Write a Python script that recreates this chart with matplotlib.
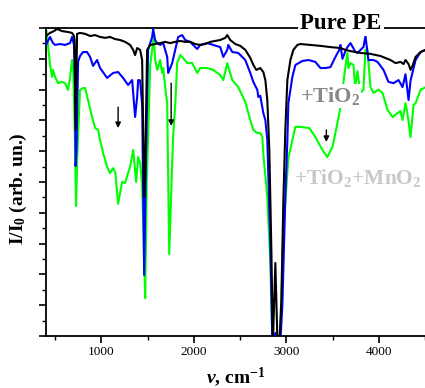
import matplotlib
matplotlib.use("Agg")
import matplotlib.pyplot as plt
from matplotlib.ticker import MultipleLocator, NullFormatter

plt.rcParams['font.family'] = ['Liberation Serif', 'DejaVu Serif']
plt.rcParams['mathtext.fontset'] = 'custom'
plt.rcParams['mathtext.rm'] = 'Liberation Serif:bold'
plt.rcParams['mathtext.it'] = 'Liberation Serif:italic:bold'
plt.rcParams['mathtext.bf'] = 'Liberation Serif:bold'

# ---- data (wavenumber cm^-1, I/I0 in arbitrary units) ----
pe_wn = [400, 443, 487, 519, 573, 638, 682, 703, 709, 720, 736, 768, 823, 877, 931, 985,
         1039, 1093, 1148, 1202, 1256, 1310, 1343, 1364, 1386, 1418, 1440, 1462, 1473,
         1494, 1527, 1581, 1635, 1689, 1743, 1798, 1852, 1906, 1960, 2014, 2068, 2123,
         2177, 2231, 2285, 2339, 2361, 2393, 2448, 2502, 2556, 2610, 2643, 2675, 2718,
         2751, 2773, 2794, 2816, 2838, 2854, 2881, 2903, 2924, 2946, 2968, 2989, 3011,
         3044, 3076, 3119, 3152, 3260, 3369, 3477, 3585, 3639, 3694, 3802, 3910, 4019,
         4127, 4181, 4235, 4268, 4289, 4322, 4344, 4365, 4398, 4452, 4506]
pe_i = [0.974, 0.984, 0.990, 0.997, 0.990, 0.987, 0.984, 0.974, 0.96, 0.669, 0.981, 0.984,
        0.981, 0.974, 0.977, 0.971, 0.968, 0.971, 0.964, 0.961, 0.955, 0.945, 0.929, 0.912,
        0.935, 0.929, 0.896, 0.451, 0.55, 0.929, 0.945, 0.948, 0.951, 0.955, 0.951, 0.955,
        0.958, 0.955, 0.955, 0.948, 0.945, 0.948, 0.955, 0.958, 0.961, 0.968, 0.977, 0.961,
        0.948, 0.942, 0.929, 0.903, 0.880, 0.864, 0.870, 0.857, 0.831, 0.766, 0.604, 0.279,
        -0.03, 0.237, -0.01, -0.03, 0.117, 0.442, 0.669, 0.831, 0.896, 0.929, 0.945, 0.948,
        0.945, 0.942, 0.938, 0.935, 0.929, 0.925, 0.919, 0.916, 0.909, 0.896, 0.886, 0.890,
        0.883, 0.896, 0.883, 0.864, 0.877, 0.906, 0.922, 0.929]

tio2_wn = [400, 443, 476, 498, 552, 606, 660, 682, 703, 715, 720, 730, 747, 768, 801, 844,
           877, 909, 953, 985, 1061, 1126, 1180, 1234, 1288, 1332, 1364, 1386, 1397, 1418,
           1440, 1462, 1483, 1505, 1548, 1559, 1581, 1603, 1635, 1668, 1711, 1722, 1765,
           1798, 1830, 1873, 1906, 1960, 2014, 2036, 2068, 2144, 2209, 2285, 2318, 2361,
           2372, 2415, 2480, 2556, 2610, 2643, 2686, 2697, 2718, 2751, 2773, 2794, 2827,
           2848, 2870, 2881, 2903, 2935, 2957, 2989, 3011, 3022, 3065, 3098, 3174, 3239,
           3314, 3369, 3423, 3477, 3531, 3574, 3585, 3607, 3639, 3661, 3694, 3748, 3769,
           3834, 3856, 3888, 3943, 3986, 4051, 4105, 4160, 4214, 4257, 4289, 4322, 4344,
           4398, 4452, 4506]
tio2_i = [0.945, 0.971, 0.951, 0.945, 0.948, 0.945, 0.951, 0.971, 0.945, 0.80, 0.552, 0.60,
          0.89, 0.909, 0.922, 0.922, 0.906, 0.877, 0.896, 0.870, 0.838, 0.854, 0.857, 0.838,
          0.815, 0.831, 0.711, 0.776, 0.831, 0.83, 0.75, 0.198, 0.6, 0.93, 0.97, 0.997,
          0.96, 0.951, 0.945, 0.951, 0.906, 0.854, 0.886, 0.929, 0.971, 0.977, 0.961, 0.955,
          0.938, 0.932, 0.945, 0.951, 0.945, 0.938, 0.906, 0.929, 0.945, 0.922, 0.919, 0.896,
          0.854, 0.825, 0.799, 0.776, 0.78, 0.724, 0.701, 0.636, 0.3, -0.01, -0.02, 0.01,
          -0.02, -0.02, 0.1, 0.45, 0.636, 0.756, 0.841, 0.880, 0.893, 0.896, 0.890, 0.870,
          0.870, 0.873, 0.906, 0.93, 0.945, 0.90, 0.925, 0.938, 0.951, 0.922, 0.919, 0.938,
          0.974, 0.896, 0.896, 0.89, 0.864, 0.825, 0.821, 0.831, 0.808, 0.85, 0.766, 0.83,
          0.896, 0.922, 0.929]

mno2_wn = [405, 443, 465, 476, 498, 530, 573, 606, 638, 660, 682, 695, 709, 725, 740, 768,
           801, 823, 855, 898, 931, 963, 985, 1018, 1061, 1093, 1126, 1150, 1180, 1223,
           1256, 1288, 1310, 1343, 1375, 1397, 1418, 1440, 1462, 1473, 1490, 1527, 1548,
           1565, 1580, 1603, 1620, 1635, 1657, 1668, 1689, 1711, 1733, 1765, 1776, 1798,
           1819, 1852, 1873, 1928, 1982, 2036, 2068, 2144, 2209, 2285, 2318, 2361, 2415,
           2480, 2556, 2610, 2643, 2686, 2718, 2740, 2751, 2794, 2827, 2848, 2870, 2903,
           2935, 2968, 3022, 3065, 3098, 3152, 3249, 3314, 3390, 3444, 3499, 3531, 3574,
           3607, 3639, 3661, 3672, 3694, 3726, 3745, 3769, 3800, 3834, 3856, 3877, 3910,
           3943, 3997, 4040, 4073, 4094, 4149, 4203, 4235, 4257, 4289, 4311, 4344, 4376,
           4398, 4452, 4506]
mno2_i = [0.99, 0.883, 0.841, 0.864, 0.841, 0.821, 0.825, 0.821, 0.799, 0.838, 0.896, 0.86,
          0.7, 0.422, 0.6, 0.799, 0.805, 0.805, 0.766, 0.711, 0.675, 0.67, 0.636, 0.594,
          0.549, 0.529, 0.545, 0.53, 0.429, 0.500, 0.497, 0.529, 0.549, 0.604, 0.500, 0.581,
          0.562, 0.490, 0.25, 0.123, 0.5, 0.88, 0.929, 0.97, 0.90, 0.864, 0.88, 0.896, 0.854,
          0.87, 0.808, 0.756, 0.266, 0.562, 0.65, 0.75, 0.886, 0.912, 0.906, 0.886, 0.886,
          0.854, 0.870, 0.870, 0.864, 0.847, 0.831, 0.886, 0.831, 0.808, 0.760, 0.701, 0.669,
          0.659, 0.659, 0.646, 0.59, 0.451, 0.237, -0.01, 0.0, -0.01, 0.0, 0.344, 0.578,
          0.636, 0.679, 0.679, 0.675, 0.646, 0.604, 0.581, 0.614, 0.659, 0.724, 0.80, 0.873,
          0.919, 0.87, 0.886, 0.88, 0.808, 0.86, 0.79, 0.799, 0.929, 0.93, 0.808, 0.789,
          0.80, 0.789, 0.756, 0.734, 0.711, 0.724, 0.73, 0.701, 0.756, 0.72, 0.646, 0.75,
          0.756, 0.799, 0.808]

arrow_wn = [1180, 1754, 3433]
arrow_top = [0.743, 0.821, 0.669]
arrow_tip = [0.675, 0.682, 0.630]

fig = plt.figure(figsize=(4.25, 3.88), dpi=100)
ax = fig.add_axes([46/425, 1-336/388, 379/425, 308/388])

ax.plot(mno2_wn, mno2_i, color='#00ff00', lw=1.5, zorder=2)
ax.plot(tio2_wn, tio2_i, color='#0000ff', lw=1.5, zorder=3)
ax.plot(pe_wn, pe_i, color='black', lw=1.5, zorder=4)

for xw, yt, yb in zip(arrow_wn, arrow_top, arrow_tip):
    ax.annotate('', xy=(xw, yb), xytext=(xw, yt),
                arrowprops=dict(arrowstyle='-|>', color='black', lw=1.0,
                                mutation_scale=8, shrinkA=0, shrinkB=0), zorder=6)

ax.set_xlim(400, 4500)
ax.set_ylim(0, 1)
ax.xaxis.set_major_locator(MultipleLocator(1000))
ax.xaxis.set_minor_locator(MultipleLocator(500))
ax.yaxis.set_major_locator(MultipleLocator(0.1))
ax.yaxis.set_minor_locator(MultipleLocator(0.05))
ax.yaxis.set_major_formatter(NullFormatter())
ax.tick_params(axis='both', which='major', direction='out', length=5, width=1.2, labelsize=9.5)
ax.tick_params(axis='both', which='minor', direction='out', length=3, width=1.0)
ax.tick_params(axis='x', pad=2)
for s in ['left', 'bottom', 'top']:
    ax.spines[s].set_linewidth(1.3)
ax.spines['right'].set_visible(False)

ax.set_xlabel(r'$\nu$, cm$^{-1}$', fontsize=14, fontweight='bold')
ax.set_ylabel(r'I/I$_0$ (arb. un.)', fontsize=14, fontweight='bold')
ax.xaxis.set_label_coords(0.5, -0.095)
ax.yaxis.set_label_coords(-0.045, 0.48)

ax.text(0.778, 1.016, 'Pure PE', transform=ax.transAxes, ha='center', va='center',
        fontsize=16.5, fontweight='bold', color='black', clip_on=False,
        bbox=dict(facecolor='white', edgecolor='none', pad=1.5), zorder=10)
ax.text(0.749, 0.779, r'+TiO$_2$', transform=ax.transAxes, ha='center', va='center',
        fontsize=16, fontweight='bold', color='#888888',
        bbox=dict(facecolor='white', edgecolor='none', pad=1.0), zorder=10)
ax.text(0.655, 0.513, r'+TiO$_2$+MnO$_2$', transform=ax.transAxes, ha='left', va='center',
        fontsize=15.5, fontweight='bold', color='#c8c8c8', clip_on=False,
        bbox=dict(facecolor='white', edgecolor='none', pad=1.0), zorder=10)

fig.savefig('out.png', dpi=100)
